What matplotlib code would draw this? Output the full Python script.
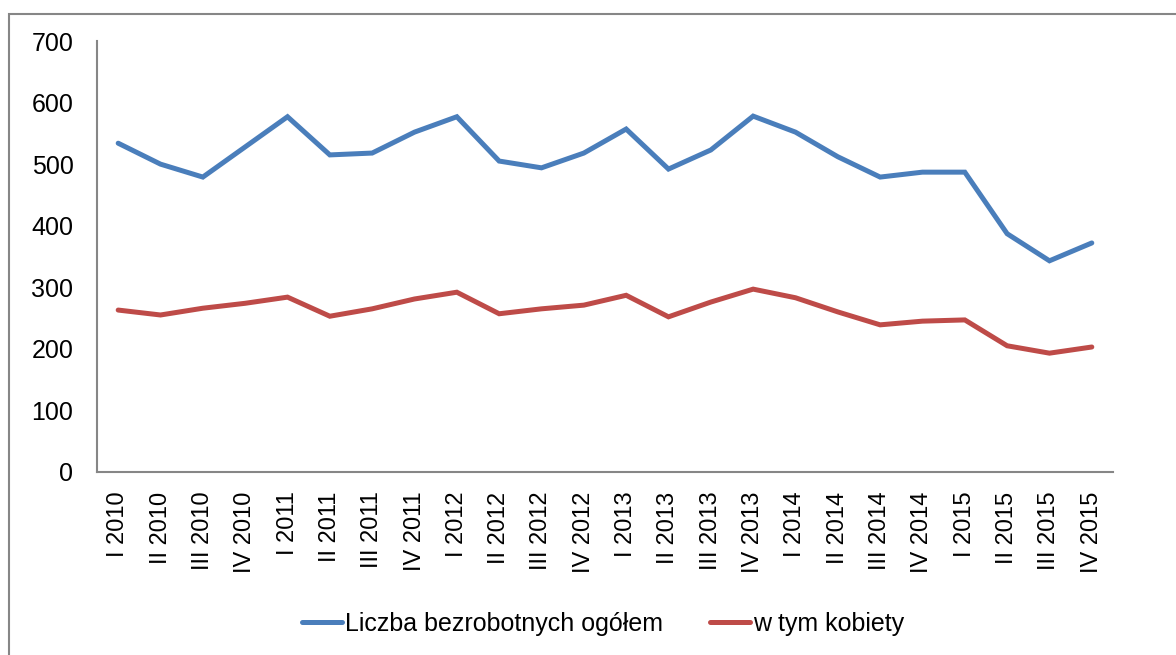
import matplotlib
matplotlib.use("Agg")
import matplotlib.pyplot as plt
from matplotlib.patches import Rectangle

plt.rcParams['font.family'] = ['Liberation Sans Narrow', 'Liberation Sans', 'DejaVu Sans']

quarters = ['I', 'II', 'III', 'IV']
years = [2010, 2011, 2012, 2013, 2014, 2015]
labels = [q + ' ' + str(y) for y in years for q in quarters]

ogolem = [534, 500, 479, 528, 577, 515, 518, 552, 577, 505, 494, 518,
          557, 492, 523, 578, 552, 512, 479, 487, 487, 387, 343, 372]
kobiety = [263, 255, 266, 274, 284, 253, 265, 281, 292, 257, 265, 271,
           287, 252, 276, 297, 283, 260, 239, 245, 247, 205, 193, 203]

fig = plt.figure(figsize=(11.76, 6.55), dpi=100)
ax = fig.add_axes([0.0825, 0.2794, 0.8639, 0.658])

x = range(len(labels))
ax.plot(x, ogolem, color='#4A7EBB', lw=3.6, solid_joinstyle='miter',
        solid_capstyle='round', label='Liczba bezrobotnych ogółem')
ax.plot(x, kobiety, color='#BE4B48', lw=3.6, solid_joinstyle='miter',
        solid_capstyle='round', label='w tym kobiety')

ax.set_xlim(-0.5, len(labels) - 0.5)
ax.set_ylim(0, 700)
ax.set_yticks(range(0, 701, 100))
ax.set_xticks(list(x))
ax.set_xticklabels(labels, rotation=90, fontsize=17)
ax.tick_params(axis='y', labelsize=18, length=0, pad=17)
ax.tick_params(axis='x', length=0, pad=14)

for s in ['top', 'right']:
    ax.spines[s].set_visible(False)
for s in ['left', 'bottom']:
    ax.spines[s].set_color('#868686')
    ax.spines[s].set_linewidth(1.5)

leg = fig.legend(loc='center', bbox_to_anchor=(0.513, 0.048), ncol=2,
                 frameon=False, fontsize=18, handlelength=1.6,
                 handletextpad=0.12, columnspacing=1.9)

# ramka wykresu
fig.patches.append(Rectangle((9 / 1176, -0.1), 1.2, (655 - 14) / 655 + 0.1,
                             transform=fig.transFigure, fill=False,
                             edgecolor='#868686', lw=1.5))

fig.savefig('out.png', dpi=100)
